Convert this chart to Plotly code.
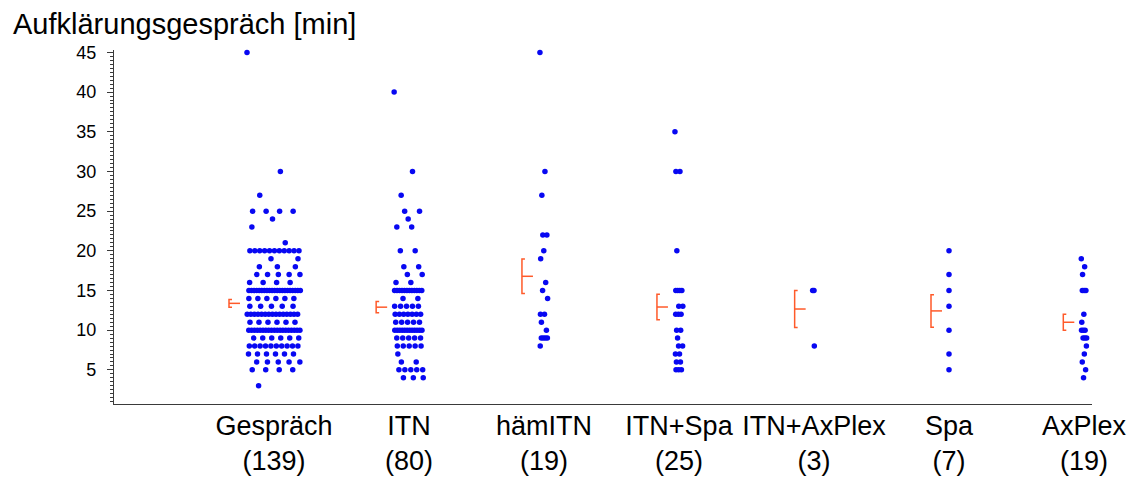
import numpy as np
import plotly.graph_objects as go

# ---------------- data ----------------
categories = ["Gespräch", "ITN", "hämITN", "ITN+Spa", "ITN+AxPlex", "Spa", "AxPlex"]
group_sizes = [139, 80, 19, 25, 3, 7, 19]

# minutes and number of patients with that value
gespraech_values = [45, 30, 27, 25, 24, 23, 21, 20, 19, 18, 17, 16, 15, 14, 13, 12, 11, 10, 9, 8, 7, 6, 5, 3]
gespraech_counts = [1, 1, 1, 4, 1, 1, 1, 11, 2, 3, 5, 4, 21, 6, 5, 15, 6, 19, 6, 10, 6, 5, 4, 1]

itn_values = [40, 30, 27, 25, 24, 23, 20, 18, 17, 16, 15, 14, 13, 12, 11, 10, 9, 8, 7, 6, 5, 4]
itn_counts = [1, 1, 1, 2, 1, 2, 2, 2, 2, 2, 12, 2, 5, 7, 5, 12, 5, 5, 1, 2, 5, 3]

haemitn_values = [45, 30, 27, 22, 20, 19, 16, 15, 14, 12, 11, 10, 9, 8]
haemitn_counts = [1, 1, 1, 2, 1, 1, 1, 1, 1, 2, 1, 1, 4, 1]

itn_spa_values = [35, 30, 20, 15, 13, 12, 10, 9, 8, 7, 6, 5]
itn_spa_counts = [1, 2, 1, 4, 2, 3, 2, 1, 2, 2, 2, 3]

itn_axplex_values = [15, 8]
itn_axplex_counts = [2, 1]

spa_values = [20, 17, 15, 13, 10, 7, 5]
spa_counts = [1, 1, 1, 1, 1, 1, 1]

axplex_values = [19, 18, 17, 15, 12, 11, 10, 9, 8, 7, 6, 5, 4]
axplex_counts = [1, 1, 1, 3, 1, 1, 3, 3, 1, 1, 1, 1, 1]

y_tick_values = [5, 10, 15, 20, 25, 30, 35, 40, 45]
y_title = "Aufklärungsgespräch [min]"

groups_values = [gespraech_values, itn_values, haemitn_values, itn_spa_values,
                 itn_axplex_values, spa_values, axplex_values]
groups_counts = [gespraech_counts, itn_counts, haemitn_counts, itn_spa_counts,
                 itn_axplex_counts, spa_counts, axplex_counts]

# ---------------- layout constants ----------------
PAGE_W, PAGE_H = 1138, 477
OFF = 8                       # default page body margin of the html page
W, H = PAGE_W - OFF, PAGE_H - OFF
# wanted positions in page pixels
AX_LEFT, AX_RIGHT, AX_TOP, AX_BOTTOM = 114, 1092, 50, 404
ML, MR, MT, MB = AX_LEFT - OFF, PAGE_W - AX_RIGHT, AX_TOP - OFF, PAGE_H - AX_BOTTOM
FIRST_SLOT_PX = 274.0        # page pixel x of first category slot
PX_PER_SLOT = 135.0          # pixels between category slots
DOT_STEP = 2.7               # horizontal spread step (px) per dot in a row
MEAN_GAP = 18                # px between mean bracket and leftmost dots
ARM = 11                     # px length of mean arm
SERIF = 3                    # px length of the bracket serifs
PHI = 0.6180339887           # golden-ratio phase shift between rows (jitter layout)
X_RANGE = [-(FIRST_SLOT_PX - AX_LEFT) / PX_PER_SLOT, (AX_RIGHT - FIRST_SLOT_PX) / PX_PER_SLOT]
Y_RANGE = [0.7, 45.3]

BLUE = "#0808f2"
ORANGE = "#ff5a2a"
AXIS = "#3a3a3a"
FONT = "Liberation Sans, Arial, sans-serif"

dot_x, dot_y = [], []
mx, my = [], []
for i, (vals, cnts) in enumerate(zip(groups_values, groups_counts)):
    maxc = max(cnts)
    width_px = (maxc - 1) * DOT_STEP
    left = -width_px / 2
    for r, (v, n) in enumerate(zip(vals, cnts)):
        if maxc == 1:
            offs = [0.0] * n
        else:
            phase = (r * PHI) % 1.0
            offs = [left + width_px * (((k / n) + phase) % 1.0) for k in range(n)]
        for off in offs:
            dot_x.append(i + off / PX_PER_SLOT)
            dot_y.append(v)
    data = np.repeat(np.array(vals, float), cnts)
    mean = data.mean()
    sem = data.std(ddof=1) / np.sqrt(len(data))
    x0 = i + (left - MEAN_GAP) / PX_PER_SLOT
    xs = x0 + SERIF / PX_PER_SLOT
    xa = x0 + ARM / PX_PER_SLOT
    lo, hi = mean - sem, mean + sem
    mx += [xs, x0, x0, xs, None, x0, xa, None]
    my += [hi, hi, lo, lo, None, mean, mean, None]

fig = go.Figure()
fig.add_trace(go.Scatter(x=mx, y=my, mode="lines",
                         line=dict(color=ORANGE, width=1.5),
                         cliponaxis=False, hoverinfo="skip", showlegend=False))
fig.add_trace(go.Scatter(x=dot_x, y=dot_y, mode="markers",
                         marker=dict(color=BLUE, size=5.5, line=dict(width=0)),
                         cliponaxis=False, showlegend=False))

fig.update_layout(
    width=W, height=H,
    margin=dict(l=ML, r=MR, t=MT, b=MB, pad=0, autoexpand=False),
    paper_bgcolor="white", plot_bgcolor="white",
    font=dict(family=FONT, color="black"),
    title=dict(text=y_title, xref="container", x=(13 - OFF) / W, xanchor="left",
               yref="container", y=1 - (24 - OFF) / H, yanchor="middle",
               font=dict(size=29, family=FONT, color="black")),
    xaxis=dict(range=X_RANGE, showline=True, linecolor=AXIS, linewidth=1.3,
               showgrid=False, zeroline=False, ticks="", automargin=False,
               tickvals=list(range(len(categories))),
               ticktext=[f"{c}<br>({n})" for c, n in zip(categories, group_sizes)],
               tickfont=dict(size=27, family=FONT, color="black"),
               ticklabelstandoff=-3),
    yaxis=dict(range=Y_RANGE, showline=True, linecolor=AXIS, linewidth=1.3,
               showgrid=False, zeroline=False, automargin=False,
               tickvals=y_tick_values, ticks="outside", ticklen=6,
               tickcolor=AXIS, tickwidth=1,
               minor=dict(ticks="outside", ticklen=3, dtick=0.5, tick0=0,
                          tickcolor=AXIS, tickwidth=1, showgrid=False),
               tickfont=dict(size=18, family=FONT, color="black"),
               ticklabelstandoff=7),
)

fig.write_html("out.html")
